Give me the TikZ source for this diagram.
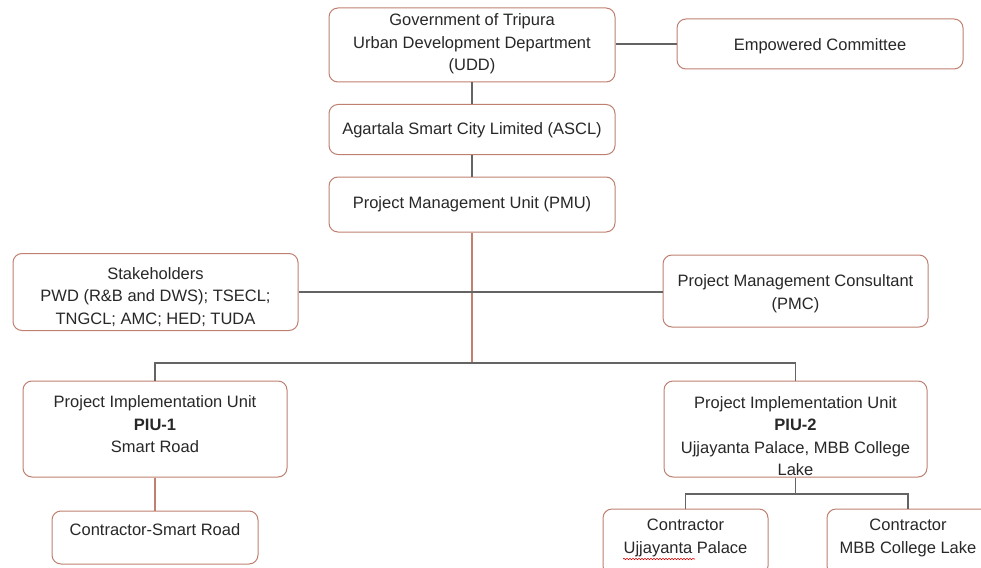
\documentclass[tikz,border=0pt]{standalone}
\usepackage{fontspec}
\setmainfont{Liberation Sans}
\usetikzlibrary{decorations.pathmorphing}
\definecolor{bordc}{RGB}{192,128,112}
\definecolor{linec}{RGB}{100,100,100}
\definecolor{txtc}{RGB}{40,40,40}
\tikzset{
  box/.style={draw=bordc, line width=1pt, rounded corners=9pt, fill=white, inner sep=0pt},
  txt/.style={text=txtc, align=center, font=\fontsize{16.5}{22.5}\selectfont, inner sep=0pt},
  conn/.style={draw=linec, line width=1.1pt},
  connr/.style={draw=bordc, line width=1.1pt}
}
\begin{document}
\begin{tikzpicture}[x=1pt,y=-1pt]
\useasboundingbox (0,0) rectangle (981,567);
% boxes
\node[box, minimum width=286, minimum height=74] (udd) at (472,45) {};
\node[box, minimum width=286, minimum height=50] (ascl) at (472,129.5) {};
\node[box, minimum width=286, minimum height=55] (pmu) at (472,204.5) {};
\node[box, minimum width=286, minimum height=50] (emp) at (820,44) {};
\node[box, minimum width=285, minimum height=77] (stk) at (155.5,292) {};
\node[box, minimum width=265, minimum height=72] (pmc) at (795.5,291) {};
\node[box, minimum width=264, minimum height=96] (piu1) at (155,429) {};
\node[box, minimum width=206, minimum height=53] (csr) at (155,537.5) {};
\node[box, minimum width=263, minimum height=96] (piu2) at (795.5,429) {};
\node[box, minimum width=165, minimum height=66] (cup) at (685.5,542) {};
\node[box, minimum width=162, minimum height=66] (cmbb) at (908,542) {};
% texts
\node[txt] (uddt) at (472,44) {Government of Tripura\\Urban Development Department\\(UDD)};
\node[txt] (asclt) at (472,130) {Agartala Smart City Limited (ASCL)};
\node[txt] (pmut) at (472,204) {Project Management Unit (PMU)};
\node[txt] (empt) at (820,46) {Empowered Committee};
\node[txt] (stkt) at (155.5,297) {Stakeholders\\PWD (R\&B and DWS); TSECL;\\TNGCL; AMC; HED; TUDA};
\node[txt] (pmct) at (795.5,293.5) {Project Management Consultant\\(PMC)};
\node[txt] (piu1t) at (155,424.5) {Project Implementation Unit\\\textbf{PIU-1}\\Smart Road};
\node[txt] (csrt) at (155,530) {Contractor-Smart Road};
\node[txt] (piu2t) at (795.5,436) {Project Implementation Unit\\\textbf{PIU-2}\\Ujjayanta Palace, MBB College\\Lake};
\node[txt] (cupt) at (685.5,538) {Contractor\\Ujjayanta Palace};
\node[txt] (cmbbt) at (908,538) {Contractor\\MBB College Lake};
% connectors
\coordinate (j1) at (472,363);
\coordinate (jl) at (155,363);
\coordinate (jr) at (795.5,363);
\coordinate (j2) at (795.5,494);
\coordinate (j2l) at (685.5,494);
\coordinate (j2r) at (908,494);
\path[conn] (udd.east |- emp.west) -- (emp.west);
\path[conn] (udd.south) -- (ascl.north);
\path[conn] (ascl.south) -- (pmu.north);
\path[connr] (pmu.south) -- (j1);
\path[conn] (stk.east) -- (stk.east -| pmc.west);
\path[conn] (piu1.north) -- (jl) -- (jr) -- (piu2.north);
\path[connr] (piu1.south) -- (csr.north);
\path[conn] (piu2.south) -- (j2);
\path[conn] (cup.north) -- (j2l) -- (j2r) -- (cmbb.north);
% spell-check underline
\draw[red!85!black, line width=0.6pt, decorate, decoration={snake, amplitude=0.7pt, segment length=3pt}] (623,559) -- (695,559);
\end{tikzpicture}
\end{document}
